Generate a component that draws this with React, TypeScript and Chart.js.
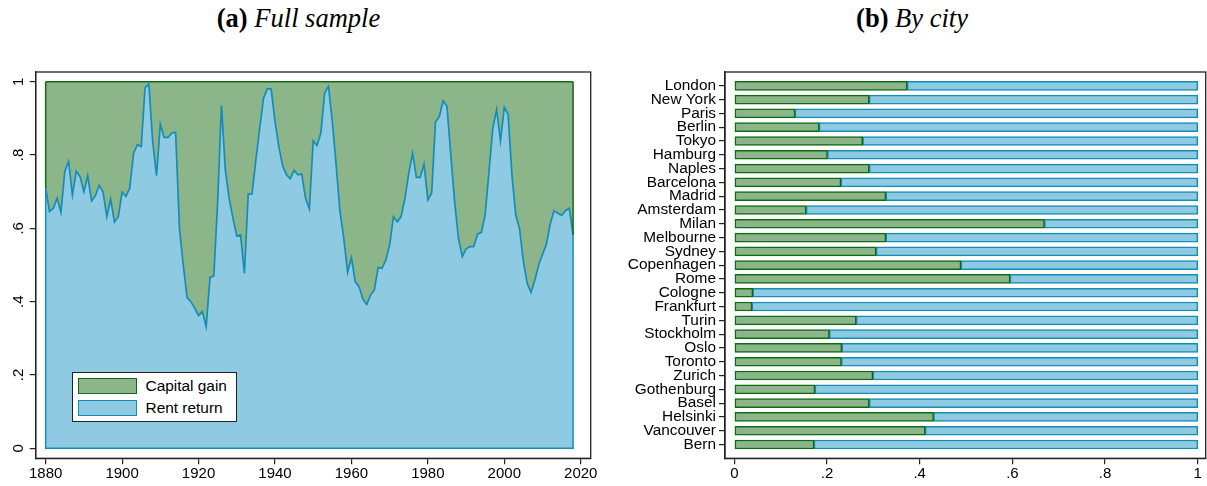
import React, { useEffect, useRef } from 'react';
import { Chart, registerables } from 'chart.js';

Chart.register(...registerables);

// ---------- data ----------
const years: number[] = Array.from({ length: 139 }, (_, i) => 1880 + i);

const rentReturn: number[] = [
  0.710, 0.646, 0.655, 0.682, 0.644, 0.755, 0.782, 0.691, 0.756, 0.741,
  0.700, 0.744, 0.675, 0.689, 0.717, 0.700, 0.632, 0.680, 0.617, 0.632,
  0.699, 0.687, 0.710, 0.805, 0.828, 0.823, 0.983, 0.994, 0.837, 0.744,
  0.884, 0.848, 0.848, 0.860, 0.862, 0.600, 0.500, 0.411, 0.400, 0.382,
  0.362, 0.373, 0.332, 0.466, 0.470, 0.673, 0.935, 0.760, 0.682, 0.628,
  0.579, 0.582, 0.477, 0.693, 0.694, 0.787, 0.873, 0.955, 0.981, 0.980,
  0.892, 0.823, 0.771, 0.746, 0.735, 0.758, 0.746, 0.748, 0.682, 0.653,
  0.839, 0.826, 0.860, 0.969, 0.987, 0.892, 0.773, 0.646, 0.573, 0.480,
  0.520, 0.454, 0.441, 0.407, 0.392, 0.418, 0.432, 0.493, 0.491, 0.513,
  0.554, 0.632, 0.618, 0.632, 0.682, 0.750, 0.805, 0.739, 0.739, 0.775,
  0.678, 0.696, 0.890, 0.905, 0.948, 0.933, 0.801, 0.673, 0.573, 0.523,
  0.544, 0.550, 0.550, 0.584, 0.589, 0.637, 0.755, 0.873, 0.924, 0.839,
  0.930, 0.911, 0.746, 0.637, 0.598, 0.509, 0.450, 0.425, 0.459, 0.500,
  0.529, 0.556, 0.611, 0.648, 0.641, 0.635, 0.648, 0.655, 0.582,
];

const capitalGain: number[] = [
  0.290, 0.354, 0.345, 0.318, 0.356, 0.245, 0.218, 0.309, 0.244, 0.259,
  0.300, 0.256, 0.325, 0.311, 0.283, 0.300, 0.368, 0.320, 0.383, 0.368,
  0.301, 0.313, 0.290, 0.195, 0.172, 0.177, 0.017, 0.006, 0.163, 0.256,
  0.116, 0.152, 0.152, 0.140, 0.138, 0.400, 0.500, 0.589, 0.600, 0.618,
  0.638, 0.627, 0.668, 0.534, 0.530, 0.327, 0.065, 0.240, 0.318, 0.372,
  0.421, 0.418, 0.523, 0.307, 0.306, 0.213, 0.127, 0.045, 0.019, 0.020,
  0.108, 0.177, 0.229, 0.254, 0.265, 0.242, 0.254, 0.252, 0.318, 0.347,
  0.161, 0.174, 0.140, 0.031, 0.013, 0.108, 0.227, 0.354, 0.427, 0.520,
  0.480, 0.546, 0.559, 0.593, 0.608, 0.582, 0.568, 0.507, 0.509, 0.487,
  0.446, 0.368, 0.382, 0.368, 0.318, 0.250, 0.195, 0.261, 0.261, 0.225,
  0.322, 0.304, 0.110, 0.095, 0.052, 0.067, 0.199, 0.327, 0.427, 0.477,
  0.456, 0.450, 0.450, 0.416, 0.411, 0.363, 0.245, 0.127, 0.076, 0.161,
  0.070, 0.089, 0.254, 0.363, 0.402, 0.491, 0.550, 0.575, 0.541, 0.500,
  0.471, 0.444, 0.389, 0.352, 0.359, 0.365, 0.352, 0.345, 0.418,
];

const cities: string[] = [
  'London', 'New York', 'Paris', 'Berlin', 'Tokyo', 'Hamburg', 'Naples',
  'Barcelona', 'Madrid', 'Amsterdam', 'Milan', 'Melbourne', 'Sydney',
  'Copenhagen', 'Rome', 'Cologne', 'Frankfurt', 'Turin', 'Stockholm', 'Oslo',
  'Toronto', 'Zurich', 'Gothenburg', 'Basel', 'Helsinki', 'Vancouver', 'Bern',
];

const cityCapitalGain: number[] = [
  0.373, 0.291, 0.131, 0.183, 0.277, 0.201, 0.291,
  0.230, 0.327, 0.155, 0.669, 0.327, 0.306,
  0.489, 0.595, 0.040, 0.038, 0.263, 0.205, 0.232,
  0.231, 0.299, 0.174, 0.291, 0.430, 0.412, 0.172,
];

const cityRentReturn: number[] = [
  0.627, 0.709, 0.869, 0.817, 0.723, 0.799, 0.709,
  0.770, 0.673, 0.845, 0.331, 0.673, 0.694,
  0.511, 0.405, 0.960, 0.962, 0.737, 0.795, 0.768,
  0.769, 0.701, 0.826, 0.709, 0.570, 0.588, 0.828,
];

const shareTicks: number[] = [0, 0.2, 0.4, 0.6, 0.8, 1];
const yearTicks: number[] = [1880, 1900, 1920, 1940, 1960, 1980, 2000, 2020];
const seriesNames: string[] = ['Capital gain', 'Rent return'];

// ---------- style ----------
const GREEN_FILL = '#8db58a';
const GREEN_LINE = '#0f6a14';
const BLUE_FILL = '#8ecae2';
const BLUE_LINE = '#168db6';
const AXIS = '#222222';
const SANS = '"Liberation Sans", Arial, Helvetica, sans-serif';
const tickFont = { family: SANS, size: 15 };
const cityFont = { family: SANS, size: 15.4 };

const fmtShare = (v: number) =>
  v === 0 ? '0' : v === 1 ? '1' : v.toFixed(1).replace(/^0/, '');

const framePlugin = {
  id: 'frame',
  afterDraw(chart: any) {
    const { ctx, chartArea: a } = chart;
    ctx.save();
    ctx.strokeStyle = AXIS;
    ctx.lineWidth = 1.3;
    ctx.strokeRect(a.left, a.top, a.right - a.left, a.bottom - a.top);
    ctx.restore();
  },
};

const areaEdgesPlugin = {
  id: 'areaEdges',
  afterDatasetsDraw(chart: any) {
    const { ctx } = chart;
    const xs = chart.scales.x;
    const ys = chart.scales.y;
    const n = years.length - 1;
    const x0 = xs.getPixelForValue(years[0]);
    const x1 = xs.getPixelForValue(years[n]);
    const yZero = ys.getPixelForValue(0);
    const yTop0 = ys.getPixelForValue(rentReturn[0] + capitalGain[0]);
    const yTop1 = ys.getPixelForValue(rentReturn[n] + capitalGain[n]);
    const r0 = ys.getPixelForValue(rentReturn[0]);
    const r1 = ys.getPixelForValue(rentReturn[n]);
    ctx.save();
    ctx.lineWidth = 1.5;
    ctx.strokeStyle = GREEN_LINE;
    ctx.beginPath();
    ctx.moveTo(x0, r0); ctx.lineTo(x0, yTop0);
    ctx.moveTo(x1, r1); ctx.lineTo(x1, yTop1);
    ctx.stroke();
    ctx.strokeStyle = BLUE_LINE;
    ctx.beginPath();
    ctx.moveTo(x0, r0); ctx.lineTo(x0, yZero); ctx.lineTo(x1, yZero); ctx.lineTo(x1, r1);
    ctx.stroke();
    ctx.restore();
  },
};

const axisGrid = {
  display: true,
  drawOnChartArea: false,
  drawTicks: true,
  tickLength: 6,
  offset: false,
  color: AXIS,
  lineWidth: 1.2,
};
const axisBorder = { display: true, color: AXIS, width: 1.3 };

function FullSampleChart() {
  const ref = useRef<HTMLCanvasElement | null>(null);
  useEffect(() => {
    if (!ref.current) return;
    const chart = new Chart(ref.current, {
      type: 'line',
      data: {
        datasets: [
          {
            label: seriesNames[1],
            data: years.map((y, i) => ({ x: y, y: rentReturn[i] })),
            fill: 'origin',
            backgroundColor: BLUE_FILL,
            borderColor: BLUE_LINE,
            borderWidth: 1.7,
            pointRadius: 0,
            tension: 0,
          },
          {
            label: seriesNames[0],
            data: years.map((y, i) => ({ x: y, y: capitalGain[i] })),
            fill: '-1',
            backgroundColor: GREEN_FILL,
            borderColor: GREEN_LINE,
            borderWidth: 1.5,
            pointRadius: 0,
            tension: 0,
          },
        ],
      },
      options: {
        animation: false,
        responsive: false,
        layout: { padding: { left: 0, top: 72, right: 9.3, bottom: 0 } },
        plugins: { legend: { display: false }, tooltip: { enabled: false } },
        scales: {
          x: {
            type: 'linear',
            min: 1877.39,
            max: 2022.61,
            afterBuildTicks: (s: any) => { s.ticks = yearTicks.map((v) => ({ value: v })); },
            afterFit: (s: any) => { s.height = 27.7; },
            ticks: {
              autoSkip: false,
              maxRotation: 0,
              font: tickFont,
              color: '#000',
              padding: 1,
              callback: (v: any) => String(v),
            },
            grid: axisGrid,
            border: axisBorder,
          },
          y: {
            type: 'linear',
            stacked: true,
            min: -0.0273,
            max: 1.0265,
            afterBuildTicks: (s: any) => { s.ticks = shareTicks.map((v) => ({ value: v })); },
            afterFit: (s: any) => { s.width = 35.7; },
            ticks: {
              autoSkip: false,
              minRotation: 90,
              maxRotation: 90,
              crossAlign: 'center',
              padding: 5,
              font: tickFont,
              color: '#000',
              callback: (v: any) => fmtShare(Number(v)),
            },
            grid: axisGrid,
            border: axisBorder,
          },
        },
      } as any,
      plugins: [areaEdgesPlugin, framePlugin],
    });
    return () => chart.destroy();
  }, []);
  return <canvas ref={ref} width={600} height={486} style={{ width: 600, height: 486, display: 'block' }} />;
}

function ByCityChart() {
  const ref = useRef<HTMLCanvasElement | null>(null);
  useEffect(() => {
    if (!ref.current) return;
    const chart = new Chart(ref.current, {
      type: 'bar',
      data: {
        datasets: [
          {
            label: seriesNames[0],
            data: cities.map((_, i) => ({ x: cityCapitalGain[i], y: i })),
            backgroundColor: GREEN_FILL,
            borderColor: GREEN_LINE,
            borderWidth: 1.5,
            borderSkipped: false,
            barThickness: 9,
          },
          {
            label: seriesNames[1],
            data: cities.map((_, i) => ({ x: cityRentReturn[i], y: i })),
            backgroundColor: BLUE_FILL,
            borderColor: BLUE_LINE,
            borderWidth: 1.5,
            borderSkipped: false,
            barThickness: 9,
          },
        ],
      },
      options: {
        indexAxis: 'y',
        animation: false,
        responsive: false,
        layout: { padding: { left: 0, top: 72, right: 1.3, bottom: 0 } },
        plugins: { legend: { display: false }, tooltip: { enabled: false } },
        scales: {
          x: {
            type: 'linear',
            stacked: true,
            min: -0.0201,
            max: 1.0171,
            afterBuildTicks: (s: any) => { s.ticks = shareTicks.map((v) => ({ value: v })); },
            afterFit: (s: any) => { s.height = 27.7; },
            ticks: {
              autoSkip: false,
              maxRotation: 0,
              font: tickFont,
              color: '#000',
              padding: 1,
              callback: (v: any) => fmtShare(Number(v)),
            },
            grid: axisGrid,
            border: axisBorder,
          },
          y: {
            type: 'linear',
            stacked: true,
            reverse: true,
            offset: false,
            min: -1,
            max: 27,
            afterBuildTicks: (s: any) => { s.ticks = cities.map((_, i) => ({ value: i })); },
            afterFit: (s: any) => { s.width = 118; },
            ticks: {
              autoSkip: false,
              padding: 3,
              font: cityFont,
              color: '#000',
              callback: (v: any) => cities[Number(v)] ?? '',
            },
            grid: axisGrid,
            border: axisBorder,
          },
        },
      } as any,
      plugins: [framePlugin],
    });
    return () => chart.destroy();
  }, []);
  return <canvas ref={ref} width={600} height={486} style={{ width: 600, height: 486, display: 'block' }} />;
}

const legendColors = [
  { fill: GREEN_FILL, line: GREEN_LINE },
  { fill: BLUE_FILL, line: BLUE_LINE },
];

const titleStyle: React.CSSProperties = {
  position: 'absolute',
  top: 5,
  textAlign: 'center',
  fontFamily: '"Liberation Serif", "Times New Roman", serif',
  fontSize: 26.5,
  lineHeight: '27px',
  color: '#000',
  whiteSpace: 'nowrap',
};

export default function App() {
  return (
    <div style={{ position: 'absolute', left: 0, top: 0, width: 1207, height: 486, background: '#fff', overflow: 'hidden' }}>
      <div style={{ ...titleStyle, left: 0, width: 597 }}>
        <b>(a)</b> <i>Full sample</i>
      </div>
      <div style={{ ...titleStyle, left: 612, width: 600 }}>
        <b>(b)</b> <i>By city</i>
      </div>
      <div style={{ position: 'absolute', left: 0, top: 0 }}>
        <FullSampleChart />
      </div>
      <div style={{ position: 'absolute', left: 607, top: 0 }}>
        <ByCityChart />
      </div>
      <div
        style={{
          position: 'absolute',
          left: 71.7,
          top: 371.7,
          width: 165.6,
          height: 50.6,
          boxSizing: 'border-box',
          border: `1.3px solid ${AXIS}`,
          background: '#fff',
          fontFamily: SANS,
          fontSize: 15.4,
          color: '#000',
        }}
      >
        {seriesNames.map((name, i) => (
          <div key={name} style={{ position: 'absolute', left: 5.5, top: 5 + i * 22, height: 16, display: 'flex', alignItems: 'center' }}>
            <span
              style={{
                display: 'inline-block',
                width: 58.4,
                height: 16,
                boxSizing: 'border-box',
                background: legendColors[i].fill,
                border: `1.5px solid ${legendColors[i].line}`,
              }}
            />
            <span style={{ marginLeft: 9, lineHeight: '16px' }}>{name}</span>
          </div>
        ))}
      </div>
    </div>
  );
}
